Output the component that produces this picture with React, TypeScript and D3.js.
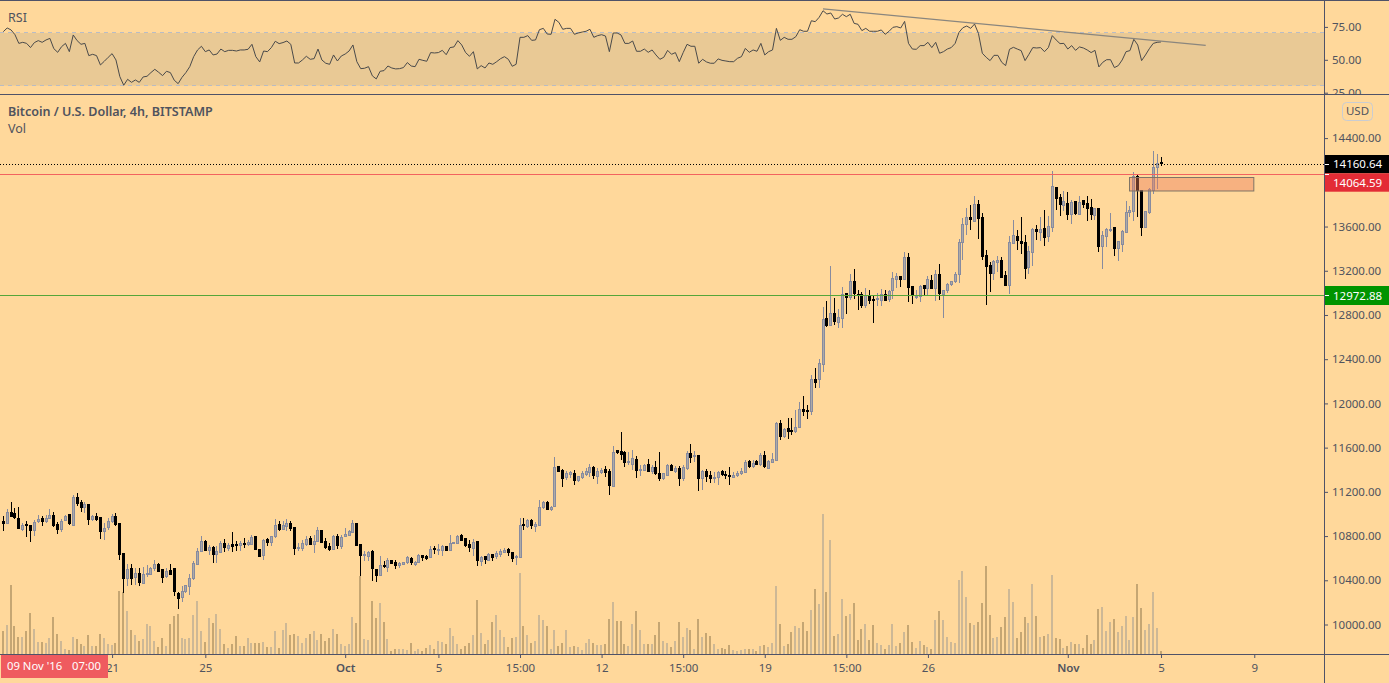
import React, { useEffect, useRef } from "react";
import * as d3 from "d3";

// 4h candles, oldest first
const opens = [
  10928,10913,11012,11003,10952,10862,10898,10889,10846,10925,10952,10928,10955,10985,10904,10862,10937,10988,10898,11148,
  11097,11052,11079,10943,10970,10961,10837,10868,10925,10970,10910,10635,10412,10499,10415,10454,10367,10451,10448,10496,
  10542,10490,10430,10481,10499,10279,10243,10294,10340,10412,10539,10659,10747,10665,10696,10629,10647,10732,10690,10723,
  10723,10711,10726,10720,10726,10792,10674,10617,10762,10738,10786,10898,10852,10883,10907,10877,10687,
  10683,10720,10771,10720,10744,10846,10744,10698,10671,10789,10702,10786,10798,10828,10913,10717,10617,10611,10653,10496,
  10439,10527,10511,10578,10557,10536,10536,10557,10593,10545,10557,10620,10611,10605,10683,10668,10665,10698,10665,10732,
  10732,10804,10771,10717,10689,10744,10566,10611,10575,10626,10608,10635,10647,10671,10644,10596,10602,10901,10883,10937,
  10883,10892,11052,11100,11040,11064,11423,11386,11323,11353,11359,11299,11323,11353,11371,11417,11335,
  11371,11395,11377,11251,11567,11558,11552,11462,11450,11492,11392,11389,11447,11386,11420,11365,11317,11344,11438,11386,
  11408,11317,11408,11540,11510,11522,11317,11377,11341,11317,11332,11380,11353,11347,11332,11344,11362,11371,11468,11432,
  11468,11444,11522,11414,11462,11480,11818,11697,11770,11748,11742,11779,
  11938,11929,11923,12210,12204,12349,12762,12699,12807,12729,12765,12988,12955,13097,12985,12985,12883,12973,12934,12928,
  12934,12985,12937,13009,13118,13142,13115,13314,13052,12952,12958,13061,13033,13106,13037,13160,12979,13009,
  13064,13100,13154,13447,13607,13673,13643,13794,13676,13332,13242,13169,13272,13287,13151,13055,13444,13504,13459,13450,
  13220,13362,13567,13543,13580,13501,13586,13951,13857,13788,13803,13697,13821,13703,13833,13803,13767,13697,13757,13417,
  13504,13558,13586,13398,13435,13543,13724,13730,14047,13923,13589,13724,13923,14129,14174,
];
const closes = [
  10913,11012,10979,10967,10862,10895,10892,10846,10922,10943,10928,10958,10979,10898,10862,10931,10976,10907,11148,11091,
  11052,11079,10943,10973,10943,10837,10868,10925,10973,10898,10626,10412,10496,10412,10454,10376,10451,10454,10499,10536,
  10478,10421,10478,10445,10291,10231,10294,10346,10409,10551,10659,10750,10668,10696,10629,10653,10732,10693,10714,10708,
  10714,10726,10720,10735,10786,10671,10611,10753,10735,10789,10889,10852,10889,10907,10858,10690,10690,
  10732,10762,10720,10744,10843,10738,10689,10671,10789,10708,10780,10807,10834,10913,10711,10620,10626,10647,10496,10439,
  10527,10521,10578,10548,10527,10551,10554,10599,10554,10560,10617,10602,10593,10677,10671,10677,10698,10665,10732,10735,
  10795,10762,10708,10689,10741,10572,10605,10581,10626,10599,10635,10659,10668,10644,10593,10608,10895,10889,10934,10889,
  10898,11058,11097,11040,11058,11420,11380,11314,11359,11371,11296,11332,11359,11377,11414,11341,11377,
  11392,11371,11254,11555,11546,11531,11462,11468,11501,11389,11398,11432,11386,11420,11365,11323,11359,11432,11389,11411,
  11317,11417,11540,11504,11522,11317,11377,11332,11311,11329,11374,11350,11341,11344,11347,11365,11377,11465,11426,11456,
  11441,11522,11420,11474,11486,11818,11697,11763,11739,11745,11782,11938,
  11923,11923,12210,12186,12352,12753,12699,12807,12735,12777,12985,12952,13097,12985,12979,12889,12973,12925,12928,12940,
  12985,12934,13012,13121,13142,13118,13314,13046,12976,12964,13052,13033,13112,13033,13160,12988,13015,13067,
  13094,13160,13447,13613,13673,13652,13794,13670,13326,13236,13169,13278,13287,13133,13061,13447,13513,13468,13441,13217,
  13368,13567,13549,13567,13495,13592,13957,13848,13794,13821,13703,13809,13712,13809,13794,13757,13703,13757,13414,13513,
  13567,13567,13395,13459,13549,13721,13739,14047,13923,13586,13730,13929,14129,14165,14160.64,
];
const highs = [
  10979,11039,11103,11049,11058,10913,10928,10889,10937,10988,10979,10988,11043,11009,10919,10949,10988,10988,11169,11184,
  11124,11100,11088,10988,11003,10961,10913,10958,10994,11003,10910,10635,10542,10542,10505,10505,10512,10536,10515,10581,
  10551,10499,10505,10542,10499,10285,10340,10355,10451,10566,10686,10798,10762,10717,10702,10702,10747,10768,10732,10834,
  10747,10753,10777,10762,10807,10792,10680,10768,10777,10792,10949,10928,10928,10952,10928,10877,10732,
  10756,10792,10792,10807,10873,10852,10777,10732,10807,10813,10807,10867,10852,10943,10913,10726,10656,10662,10671,10502,
  10611,10566,10596,10581,10575,10557,10563,10611,10605,10566,10632,10626,10626,10708,10702,10726,10711,10708,10807,10738,
  10807,10810,10777,10756,10768,10750,10617,10617,10641,10635,10656,10677,10686,10683,10653,10626,10958,10958,10949,10949,
  10919,11124,11109,11115,11064,11507,11426,11401,11380,11380,11395,11341,11380,11410,11450,11432,11410,
  11411,11426,11401,11613,11576,11736,11561,11552,11576,11522,11441,11450,11492,11441,11471,11558,11365,11447,11444,11432,
  11426,11438,11561,11631,11561,11522,11389,11401,11383,11371,11380,11395,11383,11420,11377,11386,11411,11486,11486,11480,
  11486,11546,11561,11486,11546,11830,11848,11773,11863,11863,11938,12005,
  12065,11984,12255,12315,12400,12868,12925,13242,12952,12849,13049,12994,13169,13215,13024,13006,13043,13024,12970,12994,
  13030,13018,13024,13184,13175,13151,13368,13356,13055,13024,13067,13070,13151,13160,13205,13260,13024,13085,
  13100,13181,13486,13673,13764,13794,13875,13839,13718,13386,13272,13290,13326,13320,13190,13507,13658,13567,13682,13522,
  13417,13580,13613,13682,13748,13688,14101,13954,13890,13914,13911,13839,13830,13875,13839,13875,13845,13763,13757,13552,
  13582,13718,13586,13468,13567,13824,13779,14092,14074,13923,13733,13944,14282,14255,14228,
];
const lows = [
  10837,10907,10964,10949,10862,10837,10786,10738,10792,10913,10883,10913,10949,10877,10816,10828,10928,10895,10883,11064,
  11009,11003,10898,10928,10928,10768,10756,10852,10913,10883,10575,10279,10340,10352,10355,10346,10361,10424,10442,10481,
  10466,10370,10412,10442,10255,10137,10195,10279,10264,10400,10536,10653,10656,10626,10551,10551,10641,10653,10662,10653,
  10662,10662,10684,10702,10723,10671,10602,10581,10702,10702,10777,10843,10852,10837,10837,10626,10656,
  10656,10708,10717,10641,10738,10738,10677,10656,10665,10677,10677,10786,10792,10822,10711,10436,10566,10566,10385,10376,
  10430,10505,10466,10545,10499,10511,10530,10545,10530,10521,10551,10572,10575,10599,10635,10626,10617,10656,10656,10726,
  10726,10747,10696,10653,10617,10527,10521,10545,10569,10569,10587,10605,10641,10617,10557,10536,10593,10852,10867,10858,
  10828,10883,11040,11027,11018,11058,11377,11236,11299,11320,11260,11287,11311,11341,11329,11314,11269,
  11359,11326,11169,11245,11537,11486,11417,11441,11395,11317,11341,11383,11386,11359,11350,11290,11305,11341,11383,11365,
  11251,11290,11395,11456,11462,11199,11214,11281,11275,11275,11260,11341,11311,11260,11326,11329,11350,11365,11411,11411,
  11435,11426,11414,11408,11456,11474,11667,11682,11673,11712,11727,11773,
  11884,11857,11893,12134,12134,12282,12684,12693,12708,12680,12680,12807,12934,12943,12843,12862,12862,12898,12726,12880,
  12880,12928,12916,12940,13040,13052,13109,12916,12898,12943,12916,12979,12979,13030,12925,12934,12771,12994,
  13055,13085,13085,13296,13522,13567,13634,13486,13296,12889,13003,13115,13181,13130,13055,12988,13441,13386,13350,13124,
  13169,13242,13477,13462,13417,13453,13543,13748,13694,13733,13652,13622,13703,13700,13760,13649,13658,13658,13368,13214,
  13411,13549,13332,13287,13362,13537,13682,13649,13682,13513,13580,13712,13893,13935,14147,
];
const volumes = [
  690,870,2070,850,510,510,690,1230,750,360,360,320,480,1110,600,390,150,120,510,450,
  300,240,570,240,240,600,480,300,260,330,1890,1860,1290,720,570,390,450,900,840,390,
  210,480,240,900,1140,1200,480,450,480,1170,1590,690,360,1080,930,1200,750,300,180,300,
  540,240,240,480,330,330,330,360,210,210,690,180,720,930,570,600,540,
  340,490,610,700,430,610,400,490,760,610,310,250,310,1120,940,2350,460,430,1600,1090,
  1540,970,460,100,160,160,160,130,340,100,160,100,190,280,160,400,370,310,790,550,
  310,160,250,340,580,1630,640,310,430,970,1180,730,520,220,490,520,2440,850,580,340,
  400,1180,1030,850,160,730,250,340,730,220,250,220,130,340,460,340,280,
  280,310,1060,1570,1000,1000,310,250,910,1300,730,310,310,310,580,970,400,340,220,400,
  970,520,790,730,160,1060,520,640,550,310,160,190,160,280,130,100,130,160,160,160,
  100,250,280,220,340,2050,910,250,310,670,850,790,970,700,1330,1960,1510,4210,1870,3430,
  550,610,1660,1150,1210,1540,430,760,910,430,880,340,280,160,280,910,250,
  340,670,880,370,190,400,280,220,160,1030,1300,1030,520,370,340,2230,2500,1720,940,880,
  970,1540,2650,1180,490,520,820,1120,1960,1570,490,670,1120,940,2110,1150,520,550,610,2380,
  490,460,190,250,370,310,310,190,580,310,430,1360,1420,700,970,1060,670,850,1150,430,
  1120,2110,1390,730,910,1870,790,100,
];
const rsiValues = [
  71.0,73.8,72.3,68.7,62.1,62.9,62.1,58.9,62.7,64.2,62.9,64.7,65.9,58.1,55.3,59.6,62.1,55.8,68.5,64.2,
  61.4,62.1,52.8,53.8,52.8,45.7,48.5,51.5,54.3,49.5,36.8,30.3,34.8,32.5,34.3,32.5,36.6,37.1,39.9,42.4,
  40.1,37.6,40.9,39.9,34.1,31.5,36.3,39.9,44.4,52.0,57.1,59.9,55.8,57.1,53.3,54.0,57.8,55.8,56.8,56.8,
  56.3,57.1,57.1,57.6,61.4,52.0,48.0,56.3,55.8,58.9,63.7,61.9,62.7,63.9,61.4,47.2,47.2,49.5,52.3,50.0,
  50.5,57.8,49.5,47.0,46.2,53.3,48.7,52.5,54.0,56.3,60.9,48.2,42.9,43.2,44.4,37.4,35.1,40.9,41.4,44.9,
  43.4,42.7,42.9,43.7,47.5,44.9,44.4,50.0,49.2,48.5,55.1,54.8,55.1,56.8,53.5,58.9,59.4,64.2,
  60.9,55.1,52.3,55.8,42.7,45.2,43.4,47.2,46.2,48.2,50.5,52.0,50.0,44.7,46.2,66.7,66.7,68.0,64.4,64.7,
  72.5,73.5,69.2,69.0,80.4,78.1,72.8,73.5,73.5,69.0,70.0,70.7,71.3,72.8,66.7,68.0,68.7,67.7,55.8,70.0,
  70.0,68.5,62.1,62.1,63.9,56.1,56.1,57.8,55.3,57.1,53.3,50.0,51.5,56.8,53.8,55.1,48.2,55.1,61.4,59.9,
  59.9,47.0,50.0,48.0,47.0,47.0,50.3,49.2,48.7,48.2,48.2,50.8,52.0,58.3,55.3,57.1,56.1,62.1,53.3,55.8,
  57.1,73.5,64.4,66.7,65.2,65.2,67.2,72.5,71.3,71.3,79.3,78.6,81.9,86.9,84.4,85.2,80.6,81.4,84.2,82.4,
  84.2,77.3,76.6,71.8,73.5,71.3,71.3,71.3,72.3,69.0,71.3,74.3,74.8,73.8,78.8,62.1,57.8,57.6,
  60.4,60.4,62.9,58.9,62.9,54.6,55.8,57.8,58.9,62.1,70.5,74.0,75.3,73.5,76.8,69.7,54.6,51.5,49.0,53.0,
  53.0,47.7,45.2,57.6,59.1,57.8,56.6,49.0,53.8,58.9,58.6,58.9,55.8,58.9,68.0,64.7,61.9,62.1,57.8,60.4,
  56.8,59.4,58.6,57.1,55.1,56.8,44.2,47.7,49.7,49.7,43.7,45.2,49.5,55.8,56.6,65.2,60.9,49.0,53.3,58.1,
  62.1,62.9,63.2,
];

const priceTicks = [14400, 14000, 13600, 13200, 12800, 12400, 12000, 11600, 11200, 10800, 10400, 10000];
const rsiTicks = [75, 50, 25];
const timeTickBars = [28, 52, 88, 112, 133, 154, 175, 196, 217, 238, 274, 298, 322];
const timeTickLabels = ["21", "25", "Oct", "5", "15:00", "12", "15:00", "19", "15:00", "26", "Nov", "5", "9"];

const lastPrice = 14160.64;
const resistance = 14064.59;
const support = 12972.88;
const zoneBars = [290, 322];
const zonePrices = [14036, 13914];
// trendline on the rsi pane: [bar, rsi]
const rsiTrend = [[211, 88.3], [309.5, 60.6]];

const W = 1389;
const H = 683;
const axisX = 1324.5;
const paneSplit = 94.5;
const timeY = 654.5;
const FONT = "'Noto Sans', sans-serif";
const TEXT = "#50535e";
const LINE = "#4f5268";
const BG = "#ffd89b";

const App = () => {
  const svgRef = useRef<SVGSVGElement | null>(null);

  useEffect(() => {
    const svg = d3.select(svgRef.current);
    svg.selectAll("*").remove();

    const x = d3.scaleLinear().domain([0, 340]).range([3.3, 1324.2]);
    const y = d3.scaleLinear().domain([10000, 14400]).range([624, 137.6]);
    const yRsi = d3.scaleLinear().domain([25, 75]).range([92.2, 26.4]);
    const yVol = d3.scaleLinear().domain([0, 4210]).range([654, 513.7]);
    const crisp = (v: number) => Math.floor(v) + 0.5;

    svg.append("rect").attr("width", W).attr("height", H).attr("fill", BG);

    // RSI band
    const rsiPane = svg.append("g");
    rsiPane
      .append("rect")
      .attr("x", 0)
      .attr("y", yRsi(70))
      .attr("width", axisX)
      .attr("height", yRsi(30) - yRsi(70))
      .attr("fill", "#e9c995");
    [70, 30].forEach((v) => {
      rsiPane
        .append("line")
        .attr("x1", 0)
        .attr("x2", axisX)
        .attr("y1", crisp(yRsi(v)))
        .attr("y2", crisp(yRsi(v)))
        .attr("stroke", "#b9bcc4")
        .attr("stroke-dasharray", "4,4");
    });

    const rsiLine = d3
      .line<number>()
      .x((_, i) => x(i))
      .y((d) => yRsi(d));
    rsiPane
      .append("path")
      .attr("d", rsiLine(rsiValues))
      .attr("fill", "none")
      .attr("stroke", "#4a4a4a")
      .attr("stroke-width", 1);
    rsiPane
      .append("line")
      .attr("x1", x(rsiTrend[0][0]))
      .attr("y1", yRsi(rsiTrend[0][1]))
      .attr("x2", x(rsiTrend[1][0]))
      .attr("y2", yRsi(rsiTrend[1][1]))
      .attr("stroke", "#8a867e")
      .attr("stroke-width", 1.2);

    // Volume
    svg
      .append("g")
      .attr("shape-rendering", "crispEdges")
      .selectAll("rect")
      .data(volumes)
      .enter()
      .append("rect")
      .attr("x", (_, i) => Math.floor(x(i)) - 1)
      .attr("y", (d) => yVol(d))
      .attr("width", 2)
      .attr("height", (d) => yVol(0) - yVol(d))
      .attr("fill", (_, i) => (closes[i] >= opens[i] ? "#cdb896" : "#c5a673"));

    // Candles
    const candles = svg.append("g").attr("shape-rendering", "crispEdges");
    const color = (i: number) => (closes[i] >= opens[i] ? "#878b9f" : "#000000");
    candles
      .selectAll("line")
      .data(opens)
      .enter()
      .append("line")
      .attr("x1", (_, i) => crisp(x(i)))
      .attr("x2", (_, i) => crisp(x(i)))
      .attr("y1", (_, i) => y(highs[i]))
      .attr("y2", (_, i) => y(lows[i]))
      .attr("stroke", (_, i) => color(i));
    candles
      .selectAll("rect")
      .data(opens)
      .enter()
      .append("rect")
      .attr("x", (_, i) => crisp(x(i)) - 1)
      .attr("width", 2)
      .attr("y", (d, i) => crisp(y(Math.max(d, closes[i]))))
      .attr("height", (d, i) => Math.max(1, Math.round(Math.abs(y(d) - y(closes[i])))))
      .attr("fill", (_, i) => (closes[i] >= opens[i] ? "#aeaaa6" : "#000000"))
      .attr("stroke", (_, i) => color(i));

    // Price levels
    const level = (price: number, stroke: string, dash?: string) => {
      svg
        .append("line")
        .attr("x1", 0)
        .attr("x2", axisX)
        .attr("y1", crisp(y(price)))
        .attr("y2", crisp(y(price)))
        .attr("stroke", stroke)
        .attr("stroke-dasharray", dash ?? null);
    };
    level(support, "#55a63a");
    level(resistance, "#f2625f");
    level(lastPrice, "#000000", "1,2");

    // Zone
    svg
      .append("rect")
      .attr("x", crisp(x(zoneBars[0])))
      .attr("y", crisp(y(zonePrices[0])))
      .attr("width", x(zoneBars[1]) - x(zoneBars[0]))
      .attr("height", y(zonePrices[1]) - y(zonePrices[0]))
      .attr("fill", "rgba(235,125,90,0.42)")
      .attr("stroke", "#7f7466")
      .attr("stroke-width", 1);

    // Axis lines
    const frame = svg.append("g").attr("stroke", LINE).attr("stroke-width", 1);
    frame.append("line").attr("x1", 0).attr("x2", W).attr("y1", 0.5).attr("y2", 0.5);
    frame.append("line").attr("x1", 0).attr("x2", W).attr("y1", paneSplit).attr("y2", paneSplit);
    frame.append("line").attr("x1", 0).attr("x2", W).attr("y1", timeY).attr("y2", timeY);
    frame.append("line").attr("x1", axisX).attr("x2", axisX).attr("y1", 0).attr("y2", H);

    const styleAxis = (g: any) => {
      g.select(".domain").remove();
      g.selectAll("line").attr("stroke", LINE);
      g.selectAll("text")
        .attr("fill", TEXT)
        .style("font-family", FONT)
        .style("font-size", "11.5px");
    };

    // Price axis
    svg
      .append("g")
      .attr("transform", `translate(${axisX - 0.5},0.5)`)
      .call(d3.axisRight(y).tickValues(priceTicks).tickFormat(d3.format(".2f")).tickSize(4).tickPadding(4))
      .call(styleAxis);

    // RSI axis, cut off by the pane below
    svg
      .append("clipPath")
      .attr("id", "rsi-clip")
      .append("rect")
      .attr("width", W)
      .attr("height", paneSplit);
    svg
      .append("g")
      .attr("clip-path", "url(#rsi-clip)")
      .append("g")
      .attr("transform", `translate(${axisX - 0.5},0.5)`)
      .call(d3.axisRight(yRsi).tickValues(rsiTicks).tickFormat(d3.format(".2f")).tickSize(4).tickPadding(4))
      .call(styleAxis);

    // Time axis
    const timeAxis = svg
      .append("g")
      .attr("transform", `translate(0,${timeY - 0.5})`)
      .call(
        d3
          .axisBottom(x)
          .tickValues(timeTickBars)
          .tickFormat((_, i) => timeTickLabels[i])
          .tickSize(4)
          .tickPadding(6)
      )
      .call(styleAxis);
    timeAxis
      .selectAll("text")
      .filter((_, i) => timeTickLabels[i] === "Oct" || timeTickLabels[i] === "Nov")
      .style("font-weight", 600);

    // Price tags
    const tag = (price: number, fill: string, top: number, height: number) => {
      svg.append("rect").attr("x", axisX + 0.5).attr("y", top).attr("width", W - axisX).attr("height", height).attr("fill", fill);
      svg.append("line").attr("x1", axisX + 0.5).attr("x2", axisX + 4.5).attr("y1", crisp(y(price))).attr("y2", crisp(y(price))).attr("stroke", "#ffffff");
      svg
        .append("text")
        .attr("x", axisX + 8.5)
        .attr("y", top + height / 2)
        .attr("dy", "0.37em")
        .attr("fill", "#ffffff")
        .style("font-family", FONT)
        .style("font-size", "11.5px")
        .text(price.toFixed(2));
    };
    tag(lastPrice, "#000000", 155, 18.3);
    tag(resistance, "#e32c36", 173.3, 18.4);
    tag(support, "#009400", 286, 19);

    // Currency button
    svg
      .append("rect")
      .attr("x", 1342.5)
      .attr("y", 102.5)
      .attr("width", 30)
      .attr("height", 18)
      .attr("rx", 4)
      .attr("fill", "none")
      .attr("stroke", "#c9ccd2");
    const label = (s: string, px: number, py: number, weight: number, size = 12, fill = TEXT, anchor = "start") => {
      svg
        .append("text")
        .attr("x", px)
        .attr("y", py)
        .attr("dy", "0.35em")
        .attr("fill", fill)
        .attr("text-anchor", anchor)
        .style("font-family", FONT)
        .style("font-size", `${size}px`)
        .style("font-weight", weight)
        .text(s);
    };
    label("USD", 1357.5, 111, 400, 11.5, TEXT, "middle");
    label("RSI", 8, 17.5, 400, 12.5);
    label("Bitcoin / U.S. Dollar, 4h, BITSTAMP", 8, 111.7, 600, 12.55);
    label("Vol", 8, 128.7, 400, 12.5);

    // Cursor date tag
    svg.append("rect").attr("x", 1).attr("y", 655).attr("width", 107).attr("height", 23).attr("fill", "#ef5b5f");
    label("09 Nov '16", 7, 666.5, 400, 11.3, "#ffffff");
    label("07:00", 72, 666.5, 400, 11.3, "#ffffff");
  }, []);

  return (
    <svg
      ref={svgRef}
      width={W}
      height={H}
      style={{ position: "fixed", left: 0, top: 0, display: "block" }}
    ></svg>
  );
};

export default App;
